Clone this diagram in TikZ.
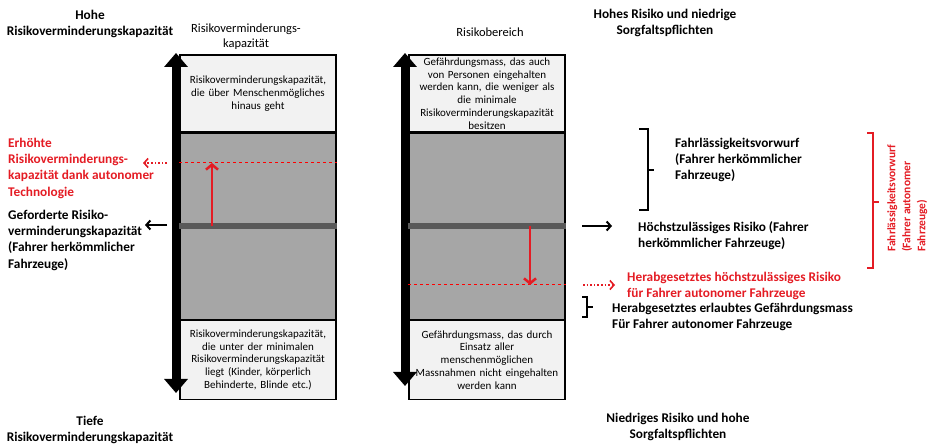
\documentclass[tikz,border=0pt]{standalone}
\usepackage{fontspec}
\setmainfont{Carlito}
\usetikzlibrary{arrows.meta,positioning}
\definecolor{boxlight}{RGB}{242,242,242}
\definecolor{boxgrey}{RGB}{166,166,166}
\definecolor{bardark}{RGB}{89,89,89}
\definecolor{riskred}{RGB}{228,28,36}

\begin{document}
\begin{tikzpicture}[
  x=1pt,y=-1pt,
  zone/.style={draw,rectangle,line width=1.2pt,minimum width=156pt,text width=154pt,align=center,inner sep=1pt,font=\fontsize{11}{12.8}\selectfont},
  light/.style={zone,fill=boxlight},
  mid/.style={zone,fill=boxgrey,minimum height=186pt},
  label/.style={font=\bfseries\fontsize{13.3}{16.2}\selectfont,align=left,anchor=north west,inner sep=0pt},
  heading/.style={font=\bfseries\fontsize{13.3}{15.8}\selectfont,align=center,inner sep=0pt},
  colhead/.style={font=\fontsize{12.5}{15}\selectfont,align=center,inner sep=0pt},
  axisarrow/.style={line width=8pt,{Triangle[width=23pt,length=14pt]}-{Triangle[width=23pt,length=14pt]}},
  level/.style={bardark,line width=6pt},
  lift/.style={riskred,line width=2.5pt,-{Straight Barb[length=5pt,width=12pt]}},
  redline/.style={red,dashed,line width=1pt},
  pointer/.style={line width=2pt,-{Straight Barb[length=4pt,width=9pt]}},
  hint/.style={riskred,dotted,line width=1.6pt,-{Straight Barb[length=4pt,width=9pt]}},
  brace/.style={line width=1.2pt}
]
\useasboundingbox (0,0) rectangle (930,446);

% column 1: capacity
\node[light,minimum height=77pt] (capTop) at (258,93.5) {Risikoverminderungskapazität,\\die über Menschenmögliches\\hinaus geht};
\node[mid,below=0pt of capTop] (capMid) {};
\node[light,minimum height=79pt,below=0pt of capMid] (capLow) {Risikoverminderungskapazität,\\die unter der minimalen\\Risikoverminderungskapazität\\liegt (Kinder, körperlich\\Behinderte, Blinde etc.)};
\coordinate (capHigh) at (176,53);
\coordinate (capDown) at (176,393);
\draw[axisarrow] (capDown) -- (capHigh);
\draw[level] (capMid.west) -- (capMid.east);
\coordinate (capGain) at (212,163);
\draw[redline] (capMid.west |- capGain) -- (capMid.east |- capGain);
\draw[lift] (capMid.center -| capGain) -- (capGain);

% column 2: risk
\node[light,minimum height=77pt] (zoneTop) at (487,93.5) {Gefährdungsmass, das auch\\von Personen eingehalten\\werden kann, die weniger als\\die minimale\\Risikoverminderungskapazität\\besitzen};
\node[mid,below=0pt of zoneTop] (zoneMid) {};
\node[light,minimum height=79pt,below=0pt of zoneMid] (zoneLow) {Gefährdungsmass, das durch\\Einsatz aller\\menschenmöglichen\\Massnahmen nicht eingehalten\\werden kann};
\coordinate (zoneHigh) at (405,53);
\coordinate (zoneDown) at (405,386);
\draw[axisarrow] (zoneDown) -- (zoneHigh);
\draw[level] (zoneMid.west) -- (zoneMid.east);
\coordinate (zoneDrop) at (530,285);
\draw[redline] (zoneMid.west |- zoneDrop) -- (zoneMid.east |- zoneDrop);
\draw[lift] (zoneMid.center -| zoneDrop) -- (zoneDrop);

% headings
\node[heading] (highCap) at (90,24) {Hohe\\Risikoverminderungskapazität};
\node[heading] (lowCap) at (90,430) {Tiefe\\Risikoverminderungskapazität};
\node[heading] (highRisk) at (665,23) {Hohes Risiko und niedrige\\Sorgfaltspflichten};
\node[heading] (lowRisk) at (678,427) {Niedriges Risiko und hohe\\Sorgfaltspflichten};
\node[colhead] (capHead) at (246,37) {Risikoverminderungs-\\kapazität};
\node[colhead] (zoneHead) at (490,32) {Risikobereich};

% left labels
\node[label,riskred] (gainText) at (8,138) {Erhöhte\\Risikoverminderungs-\\kapazität dank autonomer\\Technologie};
\node[label] (needText) at (8,210) {Geforderte Risiko-\\verminderungskapazität\\(Fahrer herkömmlicher\\Fahrzeuge)};
\coordinate (gainTail) at (167,163);
\coordinate (gainTip) at (143,163);
\draw[hint] (gainTail) -- (gainTip);
\coordinate (needTail) at (167,225);
\coordinate (needTip) at (145,225);
\draw[pointer] (needTail) -- (needTip);

% right labels
\node[label] (negText) at (675,138) {Fahrlässigkeitsvorwurf\\(Fahrer herkömmlicher\\Fahrzeuge)};
\node[label] (limitText) at (638,221) {Höchstzulässiges Risiko (Fahrer\\herkömmlicher Fahrzeuge)};
\node[label,riskred] (cutText) at (627,272) {Herabgesetztes höchstzulässiges Risiko\\für Fahrer autonomer Fahrzeuge};
\node[label] (allowText) at (612,303) {Herabgesetztes erlaubtes Gefährdungsmass\\Für Fahrer autonomer Fahrzeuge};
\node[riskred,font=\bfseries\fontsize{11.5}{15}\selectfont,align=left,inner sep=0pt,rotate=90,anchor=north west] (autoNeg) at (887,252) {Fahrlässigkeitsvorwurf\\(Fahrer autonomer\\Fahrzeuge)};
\coordinate (limitTail) at (582,226);
\coordinate (limitTip) at (612,226);
\draw[pointer] (limitTail) -- (limitTip);
\coordinate (cutTail) at (583,285);
\coordinate (cutTip) at (615,285);
\draw[hint] (cutTail) -- (cutTip);

% braces
\draw[brace] (639,129) -- (648,129) -- (648,210) -- (639,210) (648,170) -- (654,170);
\draw[brace] (582,297) -- (587,297) -- (587,317) -- (582,317) (587,307) -- (593,307);
\draw[brace,riskred] (867,133) -- (873,133) -- (873,268) -- (867,268) (873,202) -- (879,202);

\end{tikzpicture}
\end{document}
